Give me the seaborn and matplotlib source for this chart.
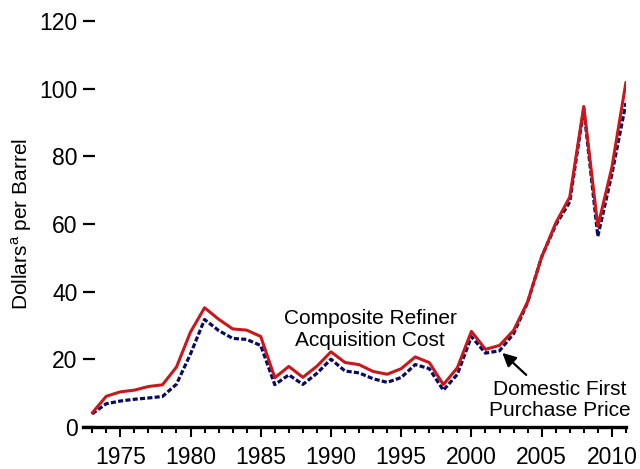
import pandas as pd
import matplotlib
matplotlib.use('Agg')
import matplotlib.pyplot as plt
from matplotlib.ticker import MultipleLocator
import seaborn as sns

years = list(range(1973, 2012))
refiner_cost = [4.15, 9.07, 10.38, 10.89, 11.96, 12.46, 17.72, 28.07, 35.24, 31.87,
                28.99, 28.63, 26.75, 14.55, 17.90, 14.67, 17.97, 22.22, 19.06, 18.43,
                16.41, 15.59, 17.23, 20.71, 19.04, 12.52, 17.51, 28.26, 22.95, 24.10,
                28.53, 36.98, 50.24, 60.24, 67.94, 94.74, 59.29, 76.69, 101.87]
first_purchase = [3.89, 6.87, 7.67, 8.19, 8.57, 9.00, 12.64, 21.59, 31.77, 28.52,
                  26.19, 25.88, 24.09, 12.51, 15.40, 12.58, 15.86, 20.03, 16.54, 15.99,
                  14.25, 13.19, 14.62, 18.46, 17.23, 10.87, 15.56, 26.72, 21.84, 22.51,
                  27.56, 36.77, 50.28, 59.69, 66.52, 94.04, 56.35, 74.71, 95.73]

df = pd.DataFrame({'year': years, 'refiner': refiner_cost, 'domestic': first_purchase})

sns.set_style('ticks')
plt.rcParams['font.family'] = ['Liberation Sans', 'DejaVu Sans']
plt.rcParams['mathtext.fontset'] = 'custom'
plt.rcParams['mathtext.rm'] = 'Liberation Sans'
plt.rcParams['text.color'] = 'black'

fig = plt.figure(figsize=(6.4, 4.69), dpi=100)
ax = fig.add_axes([0.13, 0.0896, 0.848, 0.8656])

# domestic first purchase price (dotted) under the refiner cost line
sns.lineplot(data=df, x='year', y='domestic', ax=ax, color='#0b0b5c', lw=2.3,
             linestyle=(0, (1.6, 0.7)))
sns.lineplot(data=df, x='year', y='refiner', ax=ax, color='#c8171d', lw=2.2)

ax.set_xlim(1972.36, 2011)
ax.set_ylim(0, 120)
ax.yaxis.set_major_locator(MultipleLocator(20))
ax.xaxis.set_major_locator(MultipleLocator(5))
ax.xaxis.set_minor_locator(MultipleLocator(1))

for s in ['top', 'right', 'left']:
    ax.spines[s].set_visible(False)
ax.spines['bottom'].set_linewidth(2.4)
ax.spines['bottom'].set_color('black')

ax.tick_params(axis='y', direction='in', length=8.5, width=1.6, pad=4,
               labelsize=16.5, colors='black')
ax.tick_params(axis='x', which='major', direction='out', length=7, width=1.5,
               pad=7, labelsize=16.5, colors='black')
ax.tick_params(axis='x', which='minor', direction='out', length=4.3, width=1.5,
               colors='black')

ax.set_xlabel('')
ax.set_ylabel(r'Dollars$^{\mathrm{a}}$ per Barrel', fontsize=15, labelpad=4,
              color='black')

ax.text(1992.8, 28.8, 'Composite Refiner\nAcquisition Cost', ha='center', va='center',
        fontsize=15, linespacing=1.15)
ax.text(2006.3, 8.0, 'Domestic First\nPurchase Price', ha='center', va='center',
        fontsize=15, linespacing=1.15)
ax.annotate('', xy=(2002.2, 21.9), xytext=(2003.9, 15.4),
            arrowprops=dict(arrowstyle='-|>', color='black', lw=1.6,
                            mutation_scale=20, shrinkA=0, shrinkB=0))

fig.savefig('out.png', dpi=100)
